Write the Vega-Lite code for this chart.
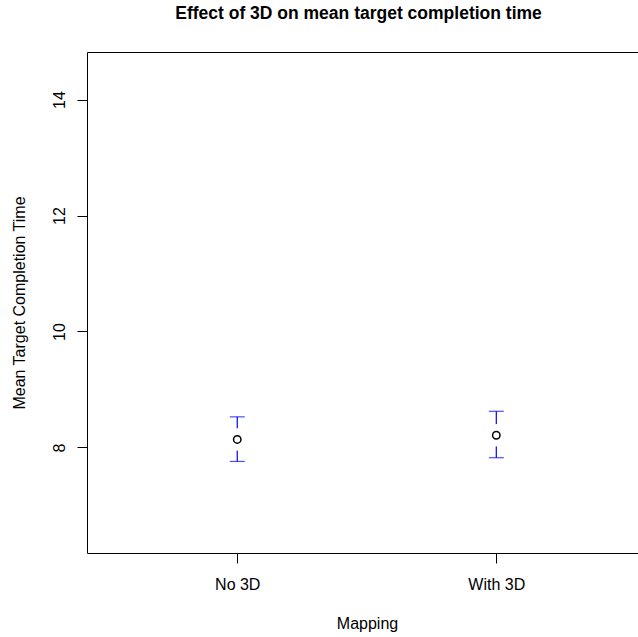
{
  "$schema": "https://vega.github.io/schema/vega-lite/v6.json",
  "width": 551,
  "height": 501,
  "autosize": {"type": "none"},
  "padding": {"left": 87, "top": 52, "right": 0, "bottom": 84},
  "background": "white",
  "config": {
    "view": {"stroke": null},
    "font": "Liberation Sans",
    "axis": {
      "domainColor": "black",
      "domainWidth": 1,
      "tickColor": "black",
      "tickWidth": 1,
      "tickSize": 10,
      "labelColor": "black",
      "labelFontSize": 16,
      "labelFont": "Liberation Sans",
      "titleColor": "black",
      "titleFontSize": 16,
      "titleFont": "Liberation Sans",
      "titleFontWeight": "normal",
      "grid": false,
      "labelOverlap": false,
      "labelFlush": false
    }
  },
  "title": {
    "text": "Effect of 3D on mean target completion time",
    "font": "Liberation Sans",
    "fontSize": 17.5,
    "fontWeight": "bold",
    "color": "black",
    "anchor": "middle",
    "dx": -4,
    "offset": 30
  },
  "data": {
    "values": [
      {"mapping": "No 3D", "pos": 1, "mean": 8.138, "lower": 7.759, "upper": 8.528},
      {"mapping": "With 3D", "pos": 2, "mean": 8.211, "lower": 7.823, "upper": 8.624}
    ]
  },
  "resolve": {"axis": {"x": "independent"}},
  "layer": [
    {
      "mark": {"type": "rule", "color": "blue", "strokeWidth": 1.2},
      "encoding": {
        "x": {
          "field": "pos",
          "type": "quantitative",
          "scale": {"domain": [0.42, 2.547], "nice": false, "zero": false},
          "axis": {
            "orient": "bottom",
            "values": [1, 2],
            "labelExpr": "datum.value == 1 ? 'No 3D' : 'With 3D'",
            "labelBaseline": "alphabetic",
            "labelAlign": "center",
            "labelPadding": 26,
            "title": "Mapping",
            "titleX": 280,
            "titleY": 75,
            "titleBaseline": "alphabetic",
            "titleAlign": "center"
          }
        },
        "y": {
          "field": "lower",
          "type": "quantitative",
          "scale": {"domain": [6.18, 14.82], "nice": false, "zero": false},
          "axis": {
            "values": [8, 10, 12, 14],
            "format": "d",
            "labelAngle": 270,
            "labelAlign": "center",
            "labelBaseline": "alphabetic",
            "labelPadding": 13,
            "title": "Mean Target Completion Time",
            "titleAngle": 270,
            "titleX": -63,
            "titleY": 250.5,
            "titleBaseline": "alphabetic",
            "titleAlign": "center"
          }
        },
        "y2": {"field": "upper"}
      }
    },
    {
      "mark": {"type": "tick", "orient": "horizontal", "color": "blue", "size": 15, "thickness": 1.2},
      "encoding": {
        "x": {
          "field": "pos",
          "type": "quantitative",
          "axis": {"orient": "top", "ticks": false, "labels": false, "title": null, "domain": true}
        },
        "y": {"field": "upper", "type": "quantitative"}
      }
    },
    {
      "mark": {"type": "tick", "orient": "horizontal", "color": "blue", "size": 15, "thickness": 1.2},
      "encoding": {
        "x": {"field": "pos", "type": "quantitative", "axis": null},
        "y": {"field": "lower", "type": "quantitative"}
      }
    },
    {
      "mark": {"type": "point", "shape": "square", "filled": true, "color": "white", "size": 500, "opacity": 1, "strokeWidth": 0},
      "encoding": {
        "x": {"field": "pos", "type": "quantitative", "axis": null},
        "y": {"field": "mean", "type": "quantitative"}
      }
    },
    {
      "mark": {"type": "point", "shape": "circle", "filled": false, "color": "black", "size": 55, "strokeWidth": 1.5, "opacity": 1},
      "encoding": {
        "x": {"field": "pos", "type": "quantitative", "axis": null},
        "y": {"field": "mean", "type": "quantitative"}
      }
    }
  ]
}
